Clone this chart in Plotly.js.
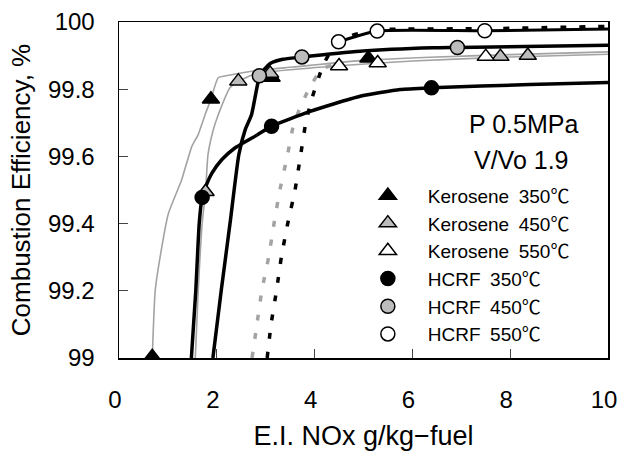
<!DOCTYPE html>
<html>
<head>
<meta charset="utf-8">
<script src="https://cdn.plot.ly/plotly-3.0.1.min.js"></script>
<style>html,body{margin:0;padding:0;background:#fff;}#chart{width:632px;height:464px;}</style>
</head>
<body>
<div id="chart"></div>
<script>
// ---- measured points ----
const seriesNames = ["Kerosene\u2002350℃", "Kerosene\u2002450℃", "Kerosene\u2002550℃", "HCRF\u2002350℃", "HCRF\u2002450℃", "HCRF\u2002550℃"];
const k350X = [0.68, 1.88, 3.12, 5.10];
const k350Y = [99.004, 99.770, 99.835, 99.892];
const k450X = [1.77, 2.44, 3.09, 7.80, 8.36];
const k450Y = [99.495, 99.824, 99.847, 99.897, 99.900];
const k550X = [4.50, 5.29, 7.50];
const k550Y = [99.869, 99.878, 99.897];
const h350X = [1.70, 3.12, 6.39];
const h350Y = [99.478, 99.690, 99.804];
const h450X = [2.87, 3.74, 6.92];
const h450Y = [99.840, 99.896, 99.924];
const h550X = [4.49, 5.28, 7.48];
const h550Y = [99.941, 99.973, 99.974];

// ---- fitted curves ----
const k350FitX = [0.68, 0.74, 0.84, 1.01, 1.28, 1.49, 1.62, 1.76, 1.88, 2.03, 2.30, 2.78, 3.56, 4.93, 6.36, 8.00, 10.0];
const k350FitY = [99.0, 99.20, 99.30, 99.43, 99.53, 99.63, 99.665, 99.724, 99.770, 99.834, 99.843, 99.855, 99.866, 99.885, 99.895, 99.903, 99.911];
const k450FitX = [1.56, 1.62, 1.70, 1.77, 1.82, 1.93, 2.03, 2.27, 2.44, 2.78, 3.09, 4.50, 6.00, 8.00, 10.0];
const k450FitY = [99.0, 99.20, 99.40, 99.495, 99.605, 99.680, 99.724, 99.804, 99.824, 99.845, 99.852, 99.870, 99.884, 99.896, 99.904];
const h350FitX = [1.48, 1.57, 1.64, 1.70, 1.79, 1.90, 2.10, 2.37, 2.84, 3.12, 3.91, 4.93, 5.75, 6.39, 8.40, 10.0];
const h350FitY = [99.0, 99.2, 99.4, 99.478, 99.516, 99.55, 99.59, 99.625, 99.665, 99.690, 99.734, 99.779, 99.799, 99.804, 99.814, 99.820];
const h450FitX = [1.92, 2.09, 2.27, 2.45, 2.58, 2.71, 2.85, 2.95, 3.10, 3.35, 3.70, 4.93, 6.42, 6.92, 10.0];
const h450FitY = [99.0, 99.2, 99.4, 99.605, 99.679, 99.724, 99.824, 99.855, 99.877, 99.889, 99.895, 99.913, 99.923, 99.924, 99.931];
const k550DashX = [2.72, 2.82, 2.92, 3.06, 3.17, 3.29, 3.44, 3.58, 3.88, 4.15, 4.45];
const k550DashY = [99.0, 99.1, 99.2, 99.3, 99.4, 99.5, 99.6, 99.7, 99.8, 99.86, 99.875];
const h550DashX = [3.03, 3.11, 3.22, 3.32, 3.45, 3.60, 3.71, 3.82, 3.94, 4.17, 4.35, 4.49, 4.72, 4.93, 5.28, 7.48, 10.0];
const h550DashY = [99.0, 99.1, 99.2, 99.3, 99.4, 99.5, 99.6, 99.7, 99.77, 99.87, 99.918, 99.941, 99.958, 99.967, 99.977, 99.980, 99.987];
const h550FitX = [4.49, 5.28, 7.48, 10.0];
const h550FitY = [99.941, 99.973, 99.974, 99.979];

const FONT = "Liberation Sans, Arial, Noto Sans CJK JP, sans-serif";
const GRAY = "#bcbcbc";
const LGRAY = "#a3a3a3";

function line(x, y, color, width, dash) {
  return {x: x, y: y, type: "scatter", mode: "lines", showlegend: false, hoverinfo: "skip",
          line: {color: color, width: width, dash: dash || "solid", shape: "spline", smoothing: 0.5}};
}
function pts(x, y, name, symbol, fill, size) {
  return {x: x, y: y, type: "scatter", mode: "markers", name: name,
          marker: {symbol: symbol, size: size, color: fill, line: {color: "#000", width: 1.5}}};
}

const traces = [
  line(k350FitX, k350FitY, LGRAY, 1.6),
  line(k450FitX, k450FitY, LGRAY, 1.6),
  line(k550DashX, k550DashY, LGRAY, 3.5, "6px,13px"),
  line(h550DashX, h550DashY, "#000", 3.5, "6px,13px"),
  line(h350FitX, h350FitY, "#000", 3.5),
  line(h450FitX, h450FitY, "#000", 3.5),
  line(h550FitX, h550FitY, "#000", 3),
  pts(k350X, k350Y, seriesNames[0], "triangle-up", "#000", 15),
  pts(k450X, k450Y, seriesNames[1], "triangle-up", GRAY, 15),
  pts(k550X, k550Y, seriesNames[2], "triangle-up", "#fff", 15),
  pts(h350X, h350Y, seriesNames[3], "circle", "#000", 14),
  pts(h450X, h450Y, seriesNames[4], "circle", GRAY, 14),
  pts(h550X, h550Y, seriesNames[5], "circle", "#fff", 14)
];

const layout = {
  width: 632, height: 464,
  margin: {l: 119, r: 24, t: 22, b: 106},
  paper_bgcolor: "#fff", plot_bgcolor: "#fff",
  font: {family: FONT, color: "#000"},
  showlegend: true,
  legend: {x: 0.468, y: 0.54, xanchor: "left", yanchor: "top", bgcolor: "rgba(0,0,0,0)",
           font: {size: 19, family: FONT}, itemwidth: 70},
  xaxis: {range: [0, 10], dtick: 2, tick0: 0, ticks: "inside", ticklen: 9, tickwidth: 1,
          showline: true, linecolor: "#000", linewidth: 1.5, mirror: true,
          showgrid: false, zeroline: false, tickfont: {size: 24, family: FONT},
          ticklabelstandoff: 20, ticklabelshift: -4,
          title: {text: "E.I. NOx g/kg\u2212fuel", font: {size: 27, family: FONT}, standoff: 14}},
  yaxis: {range: [99, 100], dtick: 0.2, tick0: 99, ticks: "inside", ticklen: 9, tickwidth: 1,
          showline: true, linecolor: "#000", linewidth: 1.5, mirror: true,
          showgrid: false, zeroline: false, tickfont: {size: 24, family: FONT},
          ticklabelstandoff: 18,
          title: {text: "Combustion Efficiency, %", font: {size: 26, family: FONT}, standoff: 10}},
  annotations: [
    {text: "P 0.5MPa", xref: "paper", yref: "paper", x: (523 - 119) / 489, y: (358 - 124) / 336,
     xanchor: "center", yanchor: "middle", showarrow: false, font: {size: 25, family: FONT}},
    {text: "V/Vo 1.9", xref: "paper", yref: "paper", x: (521 - 119) / 489, y: (358 - 160) / 336,
     xanchor: "center", yanchor: "middle", showarrow: false, font: {size: 25, family: FONT}}
  ]
};

Plotly.newPlot("chart", traces, layout, {staticPlot: true, displayModeBar: false});
</script>
</body>
</html>
